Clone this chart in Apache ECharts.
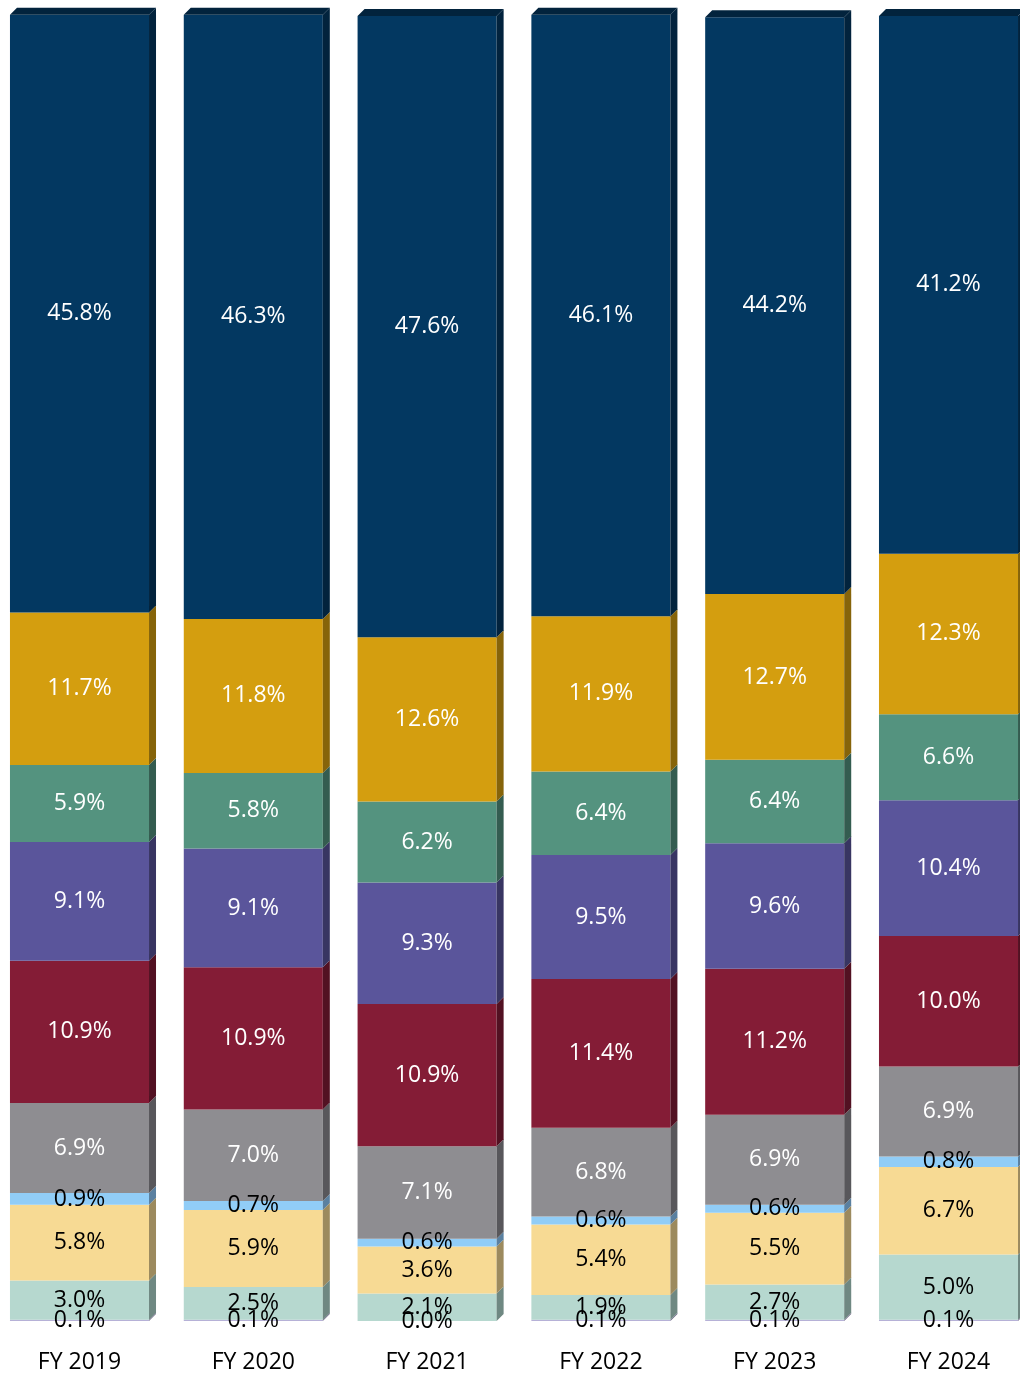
<!DOCTYPE html>
<html><head><meta charset="utf-8">
<script src="https://cdn.jsdelivr.net/npm/echarts@6/dist/echarts.min.js"></script>
<style>html,body{margin:0;padding:0;background:#fff}#c{width:1020px;height:1376px}</style>
</head><body><div id="c"></div>
<script>
const categories = ['FY 2019', 'FY 2020', 'FY 2021', 'FY 2022', 'FY 2023', 'FY 2024'];
// bottom to top
const segLavender = [0.1, 0.1, 0.0, 0.1, 0.1, 0.1];
const segMint     = [3.0, 2.5, 2.1, 1.9, 2.7, 5.0];
const segYellow   = [5.8, 5.9, 3.6, 5.4, 5.5, 6.7];
const segSky      = [0.9, 0.7, 0.6, 0.6, 0.6, 0.8];
const segGray     = [6.9, 7.0, 7.1, 6.8, 6.9, 6.9];
const segRed      = [10.9, 10.9, 10.9, 11.4, 11.2, 10.0];
const segPurple   = [9.1, 9.1, 9.3, 9.5, 9.6, 10.4];
const segTeal     = [5.9, 5.8, 6.2, 6.4, 6.4, 6.6];
const segGold     = [11.7, 11.8, 12.6, 11.9, 12.7, 12.3];
const segNavy     = [45.8, 46.3, 47.6, 46.1, 44.2, 41.2];

const seriesDefs = [
  {vals: segLavender, front: '#B6B1D7', side: '#6E6A86', text: '#000000', cat: true},
  {vals: segMint,     front: '#B6D8CF', side: '#6F8882', text: '#000000'},
  {vals: segYellow,   front: '#F7DA94', side: '#9C8A5E', text: '#000000'},
  {vals: segSky,      front: '#91CDF7', side: '#5A80A0', text: '#000000'},
  {vals: segGray,     front: '#8E8D91', side: '#58575B', text: '#FFFFFF'},
  {vals: segRed,      front: '#841C36', side: '#521122', text: '#FFFFFF'},
  {vals: segPurple,   front: '#5A559B', side: '#383562', text: '#FFFFFF'},
  {vals: segTeal,     front: '#54937F', side: '#345C50', text: '#FFFFFF'},
  {vals: segGold,     front: '#D49E0F', side: '#86640A', text: '#FFFFFF'},
  {vals: segNavy,     front: '#033861', side: '#02233D', text: '#FFFFFF', top: '#02233D'}
];

const D = 7;
const FONT = '23px "Open Sans"';
const base = categories.map(() => 0);
const series = seriesDefs.map((def, si) => {
  const data = categories.map((c, i) => {
    const lo = base[i];
    const hi = lo + def.vals[i];
    base[i] = hi;
    return [i, lo, hi, def.vals[i]];
  });
  return {
    type: 'custom',
    clip: false,
    data: data,
    renderItem: function (params, api) {
      const i = api.value(0), lo = api.value(1), hi = api.value(2), v = api.value(3);
      const pLo = api.coord([i, lo]);
      const pHi = api.coord([i, hi]);
      const bw = api.size([0.8, 0])[0];
      const x0 = pLo[0] - bw / 2, x1 = pLo[0] + bw / 2;
      const yb = pLo[1], yt = pHi[1];
      const children = [
        {type: 'rect', shape: {x: x0, y: yt, width: bw, height: yb - yt}, style: {fill: def.front}},
        {type: 'polygon', shape: {points: [[x1, yt], [x1 + D, yt - D], [x1 + D, yb - D], [x1, yb]]}, style: {fill: def.side}}
      ];
      if (def.top) {
        children.push({type: 'polygon', shape: {points: [[x0, yt], [x0 + D, yt - D], [x1 + D, yt - D], [x1, yt]]}, style: {fill: def.top}});
      }
      children.push({
        type: 'text',
        style: {x: pLo[0], y: (yt + yb) / 2, text: v.toFixed(1) + '%', fill: def.text, font: FONT, align: 'center', verticalAlign: 'middle'},
        z2: 10
      });
      if (def.cat) {
        const p0 = api.coord([i, 0]);
        children.push({
          type: 'text',
          style: {x: p0[0], y: p0[1] + 41, text: categories[i], fill: '#000000', font: FONT, align: 'center', verticalAlign: 'middle'},
          z2: 10
        });
      }
      return {type: 'group', children: children};
    }
  };
});

const chart = echarts.init(document.getElementById('c'));
chart.setOption({
  animation: false,
  backgroundColor: '#ffffff',
  grid: {left: 0, right: 0, top: 16, bottom: 55},
  xAxis: {type: 'value', min: -0.4574, max: 5.4114, show: false},
  yAxis: {type: 'value', min: 0, max: 100, show: false},
  series: series
});
</script>
</body></html>
